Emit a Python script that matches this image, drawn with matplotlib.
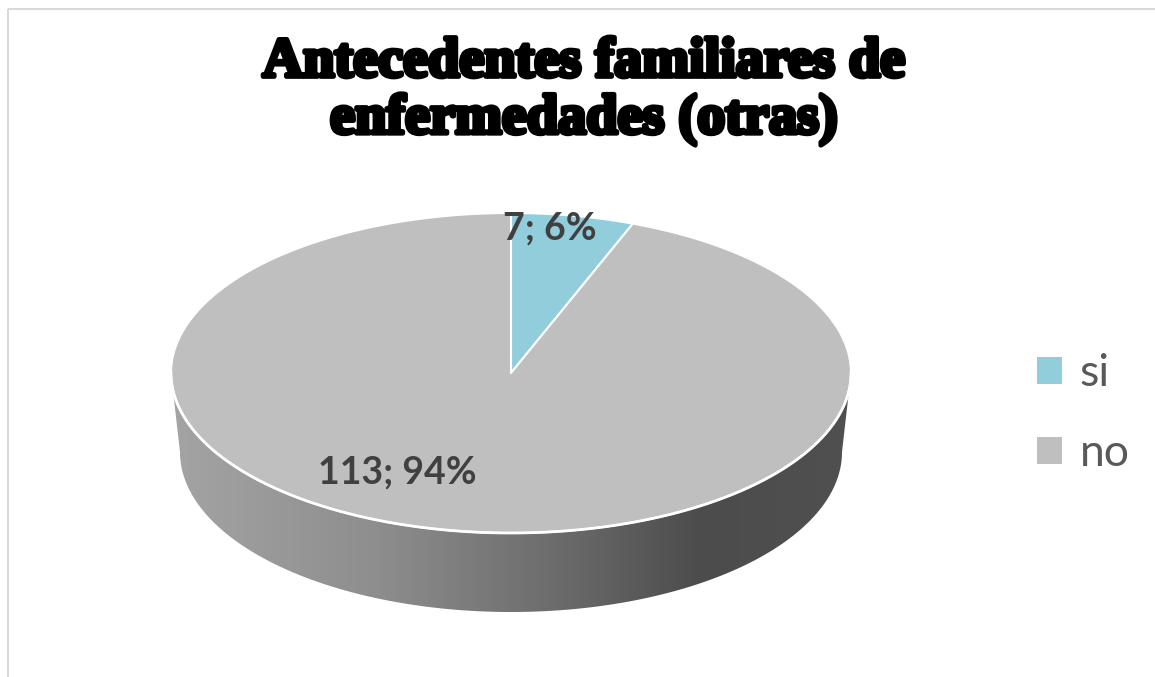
import numpy as np
import matplotlib
matplotlib.use("Agg")
import matplotlib.pyplot as plt
from matplotlib.patches import Polygon, Patch
from matplotlib.colors import LinearSegmentedColormap
import matplotlib.patheffects as pe

# ---- data ----
categories = ["si", "no"]
values = [7, 113]
colors = ["#92CDDC", "#BFBFBF"]
title_text = "Antecedentes familiares de\nenfermedades (otras)"

# ---- figure ----
W, H = 1155, 677
fig = plt.figure(figsize=(W / 100, H / 100), dpi=100)
ax = fig.add_axes([0, 0, 1, 1])
ax.set_xlim(0, W)
ax.set_ylim(H, 0)
ax.axis("off")

# frame (chart area border, cropped)
ax.plot([8, 8], [9, H + 5], color="#D9D9D9", lw=1.5, solid_capstyle="butt")
ax.plot([8, W + 5], [9, 9], color="#D9D9D9", lw=1.5, solid_capstyle="butt")

# pie geometry (pixels)
cx, cy = 511, 373
rx, ry = 340, 160
bcx, bcy = 511, 452
brx, bry = 331, 160

# ---- side (front wall) with gradient ----
t_top = np.linspace(np.pi, 0, 300)
t_bot = np.linspace(0, np.pi, 300)
top_arc = np.column_stack([cx + rx * np.cos(t_top), cy + ry * np.sin(t_top)])
bot_arc = np.column_stack([bcx + brx * np.cos(t_bot), bcy + bry * np.sin(t_bot)])
side_poly = Polygon(np.vstack([top_arc, bot_arc]), closed=True,
                    facecolor="none", edgecolor="none")
ax.add_patch(side_poly)
cmap = LinearSegmentedColormap.from_list(
    "side", [(0.0, "#A4A4A4"), (0.3, "#8E8E8E"), (0.55, "#6E6E6E"),
             (0.78, "#4C4C4C"), (1.0, "#505050")])
grad = np.linspace(0, 1, 512).reshape(1, -1)
im = ax.imshow(grad, cmap=cmap, aspect="auto",
               extent=[cx - rx - 2, cx + rx + 2, bcy + bry + 2, cy - 2],
               interpolation="bilinear", zorder=1)
im.set_clip_path(side_poly)

# ---- top face wedges ----
total = float(sum(values))
start = 0.0
for v, c in zip(values, colors):
    ang = 360.0 * v / total
    th = np.deg2rad(np.linspace(start, start + ang, 200))
    pts = np.column_stack([cx + rx * np.sin(th), cy - ry * np.cos(th)])
    pts = np.vstack([[cx, cy], pts])
    ax.add_patch(Polygon(pts, closed=True, facecolor=c, edgecolor="white",
                         lw=1.5, zorder=3, joinstyle="round"))
    start += ang

# white rim along the front edge
ax.plot(top_arc[:, 0], top_arc[:, 1], color="white", lw=2, zorder=4)

# ---- data labels ----
label_pos = [(550, 228), (397, 472)]  # pixel positions of label centres
for v, (lx, ly) in zip(values, label_pos):
    pct = round(100 * v / total)
    ax.text(lx, ly, f"{v}; {pct}%", ha="center", va="center",
            fontsize=27, fontweight="bold", family="Lato",
            color="#404040", zorder=5)

# ---- title ----
ax.text(584, 91, title_text, ha="center", va="center",
        fontsize=40.5, fontweight="bold", family="Liberation Serif",
        color="black", linespacing=1.12,
        path_effects=[pe.withStroke(linewidth=3.4, foreground="black")])

# ---- legend ----
handles = [Patch(facecolor=c, edgecolor="none") for c in colors]
leg = ax.legend(handles, categories, loc="center left",
                bbox_to_anchor=(0.879, 0.389), frameon=False,
                prop={"family": "Lato", "size": 32},
                handlelength=0.55, handleheight=0.55, handletextpad=0.4,
                labelspacing=0.875, borderpad=0)
for t in leg.get_texts():
    t.set_color("#595959")

fig.savefig("out.png", dpi=100)
